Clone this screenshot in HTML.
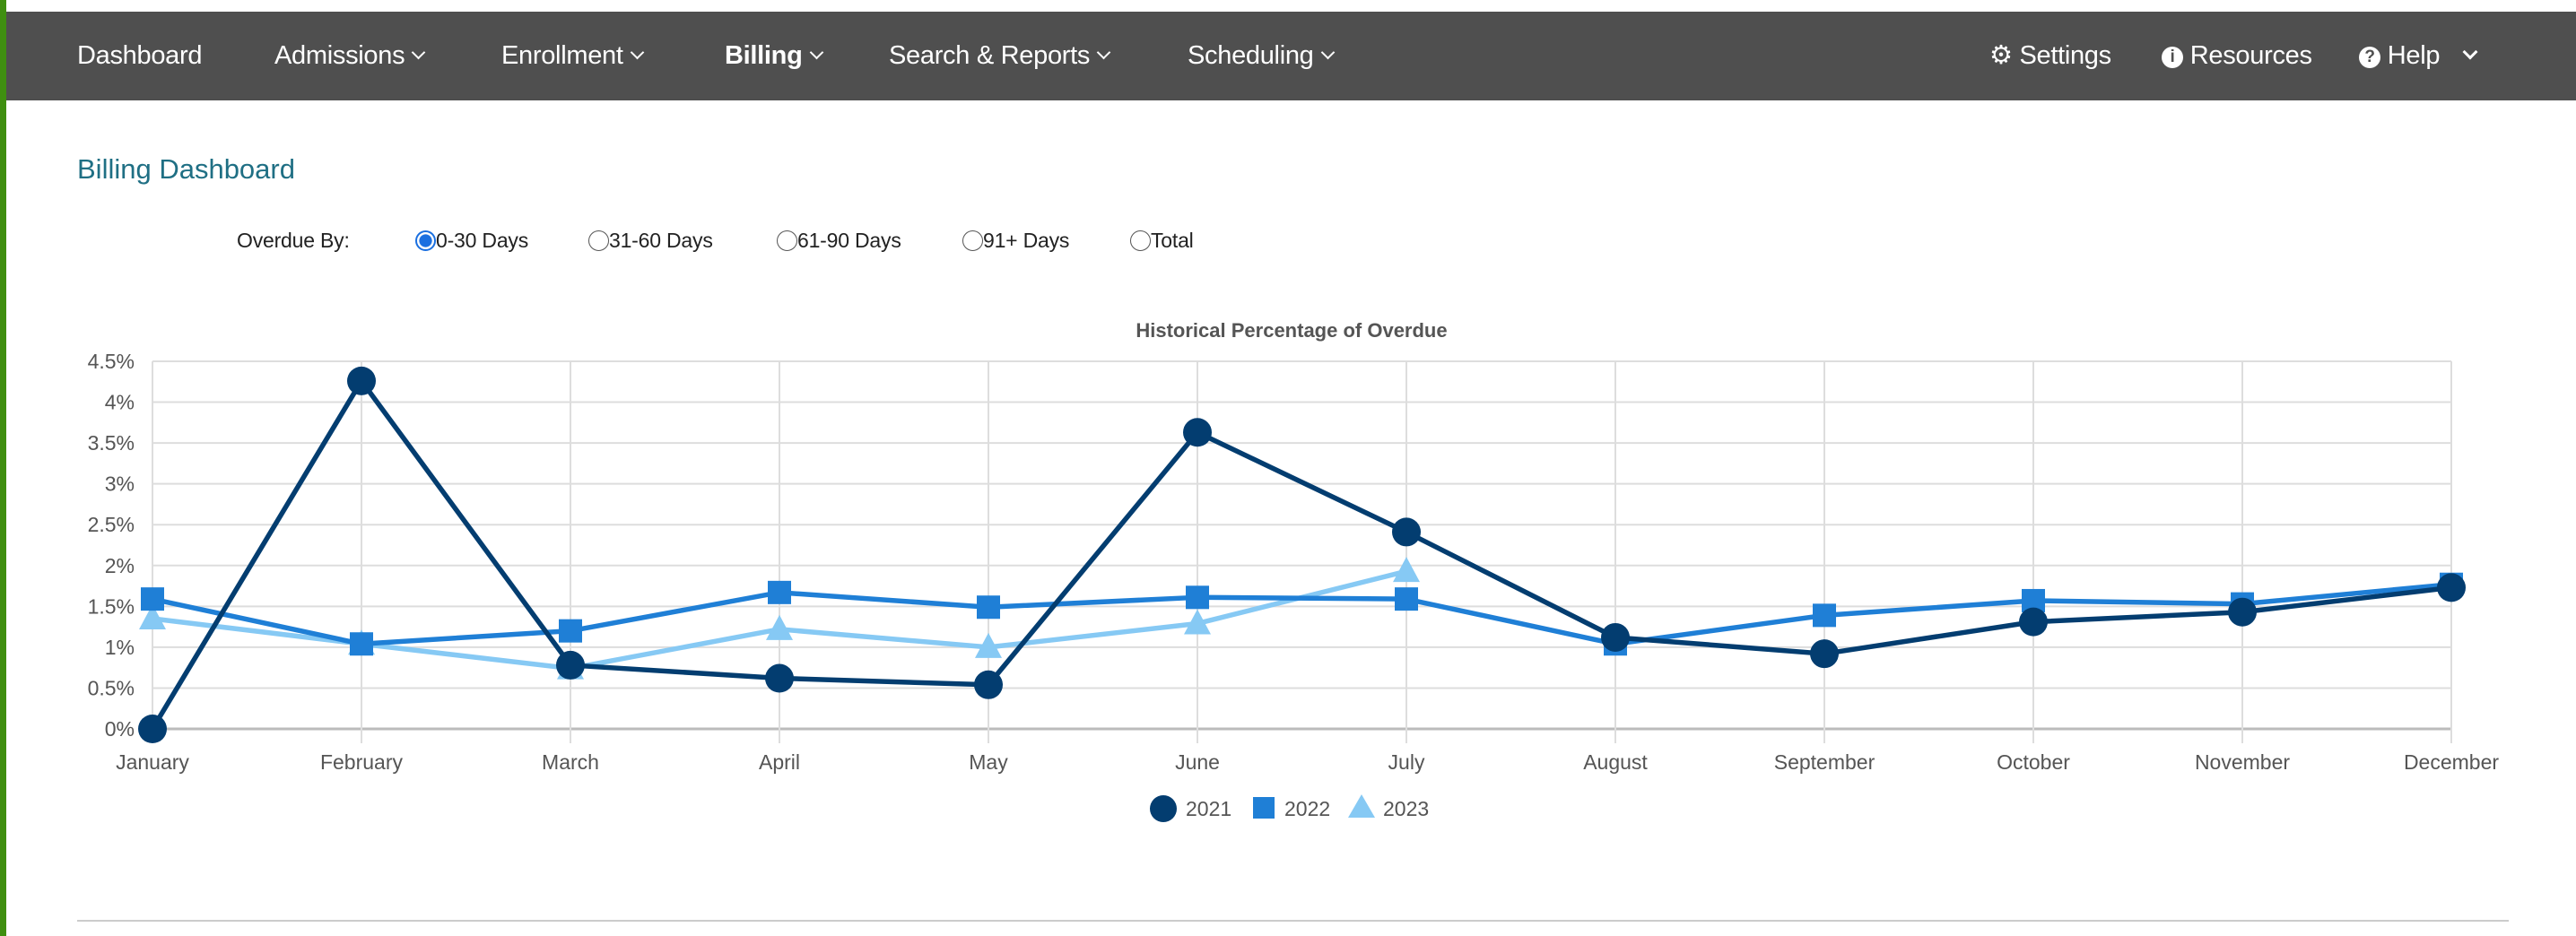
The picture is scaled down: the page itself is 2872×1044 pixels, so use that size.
<!DOCTYPE html>
<html><head><meta charset="utf-8">
<style>
body{margin:0;width:2872px;height:1044px;background:#fff;position:relative;overflow:hidden;font-family:"Liberation Sans",sans-serif;}
.green{position:absolute;left:0;top:0;width:7px;height:1044px;background:#3f8f10;}
.nav{position:absolute;left:7px;top:13px;width:2865px;height:99px;background:#4f4f4f;}
.ni{position:absolute;top:0;line-height:99px;color:#fff;font-size:29px;white-space:nowrap;letter-spacing:-0.3px;}
.car{display:inline-block;width:9px;height:9px;border-right:2.5px solid #fff;border-bottom:2.5px solid #fff;transform:rotate(45deg);margin-left:10px;vertical-align:7px;}
.title{position:absolute;left:86px;top:171px;font-size:31px;color:#1f6f84;}
.ov{position:absolute;top:255px;font-size:23px;color:#222;white-space:nowrap;letter-spacing:-0.2px;}
.rad{display:inline-block;width:23px;height:23px;border:1.5px solid #555;border-radius:50%;vertical-align:-4px;box-sizing:border-box;}
.rad.on{border:2px solid #1a6fe0;background:radial-gradient(circle,#1a6fe0 50%,#fff 56%);}
.hr{position:absolute;left:86px;top:1026px;width:2711px;height:2px;background:#ccc;}
</style></head><body>
<div class="green"></div>
<div class="nav">
<div class="ni" style="left:79px">Dashboard</div>
<div class="ni" style="left:299px">Admissions<span class="car"></span></div>
<div class="ni" style="left:552px">Enrollment<span class="car"></span></div>
<div class="ni" style="left:801px;font-weight:bold">Billing<span class="car"></span></div>
<div class="ni" style="left:984px">Search &amp; Reports<span class="car"></span></div>
<div class="ni" style="left:1317px">Scheduling<span class="car"></span></div>
<div class="ni" style="left:2211px">&#9881; Settings</div>
<div class="ni" style="left:2403px"><span style="display:inline-block;width:24px;height:24px;border-radius:50%;background:#fff;color:#4f4f4f;font-size:19px;line-height:24px;text-align:center;font-weight:bold;vertical-align:2px">i</span> Resources</div>
<div class="ni" style="left:2623px"><span style="display:inline-block;width:24px;height:24px;border-radius:50%;background:#fff;color:#4f4f4f;font-size:19px;line-height:24px;text-align:center;font-weight:bold;vertical-align:2px">?</span> Help <span class="car" style="margin-left:20px;border-width:3.5px"></span></div>
</div>
<div class="title">Billing Dashboard</div>
<div class="ov" style="left:264px">Overdue By:</div>
<div class="ov" style="left:463px"><span class="rad on"></span>0-30 Days</div>
<div class="ov" style="left:656px"><span class="rad"></span>31-60 Days</div>
<div class="ov" style="left:866px"><span class="rad"></span>61-90 Days</div>
<div class="ov" style="left:1073px"><span class="rad"></span>91+ Days</div>
<div class="ov" style="left:1260px"><span class="rad"></span>Total</div>
<svg id="chart" width="2872" height="1044" style="position:absolute;left:0;top:0"></svg>
<div class="hr"></div>
<script>
const months=["January","February","March","April","May","June","July","August","September","October","November","December"];
const yTicks=[0,0.5,1,1.5,2,2.5,3,3.5,4,4.5];
const yTickLabels=["0%","0.5%","1%","1.5%","2%","2.5%","3%","3.5%","4%","4.5%"];
const s2021=[0,4.26,0.78,0.62,0.54,3.63,2.41,1.12,0.92,1.31,1.43,1.73];
const s2022=[1.59,1.04,1.2,1.67,1.49,1.61,1.59,1.04,1.39,1.57,1.53,1.77];
const s2023=[1.35,1.04,0.74,1.22,1.0,1.29,1.93];
const seriesNames=["2021","2022","2023"];
const svg=document.getElementById('chart');const NS="http://www.w3.org/2000/svg";
const L=170,R=2733,T=403,B=813,YMAX=4.5;
const x=i=>L+(R-L)*i/(months.length-1);
const y=v=>B-(B-T)*v/YMAX;
function mk(t,a,p){const e=document.createElementNS(NS,t);for(const k in a)e.setAttribute(k,a[k]);(p||svg).appendChild(e);return e;}
let e;
e=mk('text',{x:1440,y:376,'text-anchor':'middle','font-size':22,'font-weight':'bold',fill:'#555'});e.textContent="Historical Percentage of Overdue";


yTicks.forEach((v,i)=>{
 e=mk('line',{x1:L,x2:R,y1:y(v),y2:y(v),stroke:i==0?'#bbb':'#ddd','stroke-width':i==0?3:2});
 
 
 e=mk('text',{x:150,y:y(v)+8,'text-anchor':'end','font-size':23,fill:'#555'});e.textContent=yTickLabels[i];
 
 
});
months.forEach((m,i)=>{
 e=mk('line',{x1:x(i),x2:x(i),y1:T,y2:B+16,stroke:'#ddd','stroke-width':2});
 
 
 e=mk('text',{x:x(i),y:858,'text-anchor':'middle','font-size':23,fill:'#555'});e.textContent=m;
 
 
});
function series(data,color,shape,name){
 const g=mk('g',{});
 
 
 mk('polyline',{points:data.map((v,i)=>x(i)+','+y(v)).join(' '),fill:'none',stroke:color,'stroke-width':5.5,'stroke-linejoin':'round'},g);
 data.forEach((v,i)=>{
  const cx=x(i),cy=y(v);let m;
  if(shape=='c')m=mk('circle',{cx:cx,cy:cy,r:16,fill:color},g);
  else if(shape=='s')m=mk('rect',{x:cx-13,y:cy-13,width:26,height:26,fill:color},g);
  else m=mk('polygon',{points:`${cx},${cy-16} ${cx+15},${cy+12} ${cx-15},${cy+12}`,fill:color},g);
  
  
 });
}
series(s2023,'#86c9f4','t',seriesNames[2]);
series(s2022,'#1f7fd6','s',seriesNames[1]);
series(s2021,'#033d70','c',seriesNames[0]);
e=mk('circle',{cx:1297,cy:902,r:15,fill:'#033d70'});


e=mk('rect',{x:1397,y:889,width:24,height:24,fill:'#1f7fd6'});


e=mk('polygon',{points:'1518,886 1533,912 1503,912',fill:'#86c9f4'});


[[1322,0],[1432,1],[1542,2]].forEach(([lx,i])=>{
 e=mk('text',{x:lx,y:910,'font-size':23,fill:'#555'});e.textContent=seriesNames[i];
 
 
});
</script>
</body></html>
